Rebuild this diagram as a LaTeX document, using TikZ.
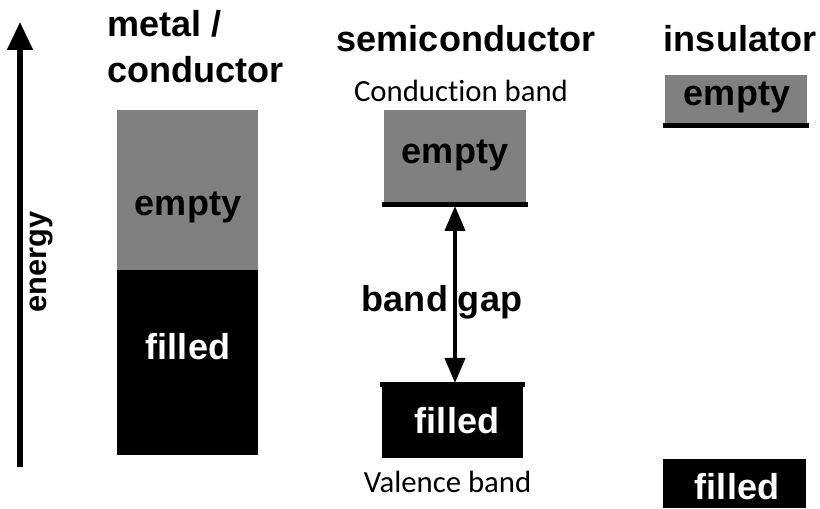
\documentclass[tikz,border=0pt]{standalone}
\usepackage{fontspec}
\setmainfont{Liberation Sans}
\newfontfamily\bandfont[Ligatures=NoCommon]{Carlito}
\usetikzlibrary{arrows.meta,positioning}
\definecolor{bandgrey}{RGB}{128,128,128}

\begin{document}
\begin{tikzpicture}[
    bandbox/.style={rectangle, draw=none, inner sep=0pt},
    emptyband/.style={bandbox, fill=bandgrey},
    filledband/.style={bandbox, fill=black},
    edge/.style={line width=0.09cm},
    title/.style={font=\fontsize{20.5}{24}\selectfont\bfseries, inner sep=0pt},
    lbl/.style={font=\fontsize{20.5}{24}\selectfont\bfseries, inner sep=0pt},
    bandname/.style={font=\bandfont\fontsize{17.5}{21}\selectfont, inner sep=0pt},
    energyarr/.style={-{Triangle[length=0.56cm, width=0.5cm]}, line width=0.1cm},
    gaparr/.style={{Triangle[length=0.5cm, width=0.4cm]}-{Triangle[length=0.5cm, width=0.4cm]}, line width=0.08cm}
]
    \useasboundingbox (0,0) rectangle (16.4,10.16);

    % Energy axis
    \coordinate (ebottom) at (0.40,0.82);
    \coordinate (etop) at (0.40,9.72);
    \draw[energyarr] (ebottom) -- (etop);
    \node[lbl, font=\fontsize{17.5}{21}\selectfont\bfseries, rotate=90] (energy) at (0.82,4.92) {energy};

    % Metal / conductor
    \node[title, anchor=base west] (metal) at (2.14,9.42) {metal /};
    \node[title, anchor=base west] (conductor) at (2.14,8.50) {conductor};
    \node[emptyband, minimum width=2.82cm, minimum height=3.2cm] (metalempty) at (3.75,6.36) {};
    \node[filledband, minimum width=2.82cm, minimum height=3.7cm] (metalfilled) at (3.75,2.91) {};
    \node[lbl] (metalemptytxt) at (3.76,6.02) {empty};
    \node[lbl, white] (metalfilledtxt) at (3.76,3.22) {filled};

    % Semiconductor
    \node[title, anchor=base] (semi) at (9.32,9.12) {semiconductor};
    \node[bandname, anchor=base] (cbname) at (9.22,8.12) {Conduction band};
    \node[emptyband, minimum width=2.84cm, minimum height=1.88cm] (semiempty) at (9.10,7.02) {};
    \draw[edge] (semiempty.south west) ++(-0.04,0) -- ++(2.92,0);
    \node[lbl] (semiemptytxt) at (9.10,7.06) {empty};
    \node[filledband, minimum width=2.82cm, minimum height=1.46cm] (semifilled) at (9.05,1.73) {};
    \draw[edge] (semifilled.north west) ++(-0.04,0) -- ++(2.90,0);
    \node[lbl, white] (semifilledtxt) at (9.14,1.74) {filled};
    \node[bandname, anchor=base] (vbname) at (8.95,0.32) {Valence band};

    % Band gap
    \coordinate (cbedge) at (9.10,6.04);
    \coordinate (vbedge) at (9.10,2.50);
    \draw[gaparr] (cbedge) -- (vbedge);
    \node[lbl] (gap) at (8.84,4.12) {band gap};

    % Insulator
    \node[title, anchor=base] (insul) at (14.80,9.12) {insulator};
    \node[emptyband, minimum width=2.84cm, minimum height=1.0cm] (insulempty) at (14.72,8.16) {};
    \draw[edge] (insulempty.south west) ++(-0.04,0) -- ++(2.92,0);
    \node[lbl] (insulemptytxt) at (14.74,8.22) {empty};
    \node[filledband, minimum width=2.86cm, minimum height=0.92cm] (insulfilled) at (14.69,0.46) {};
    \draw[edge] (insulfilled.north west) -- (insulfilled.north east);
    \node[lbl, white] (insulfilledtxt) at (14.74,0.42) {filled};
\end{tikzpicture}
\end{document}
